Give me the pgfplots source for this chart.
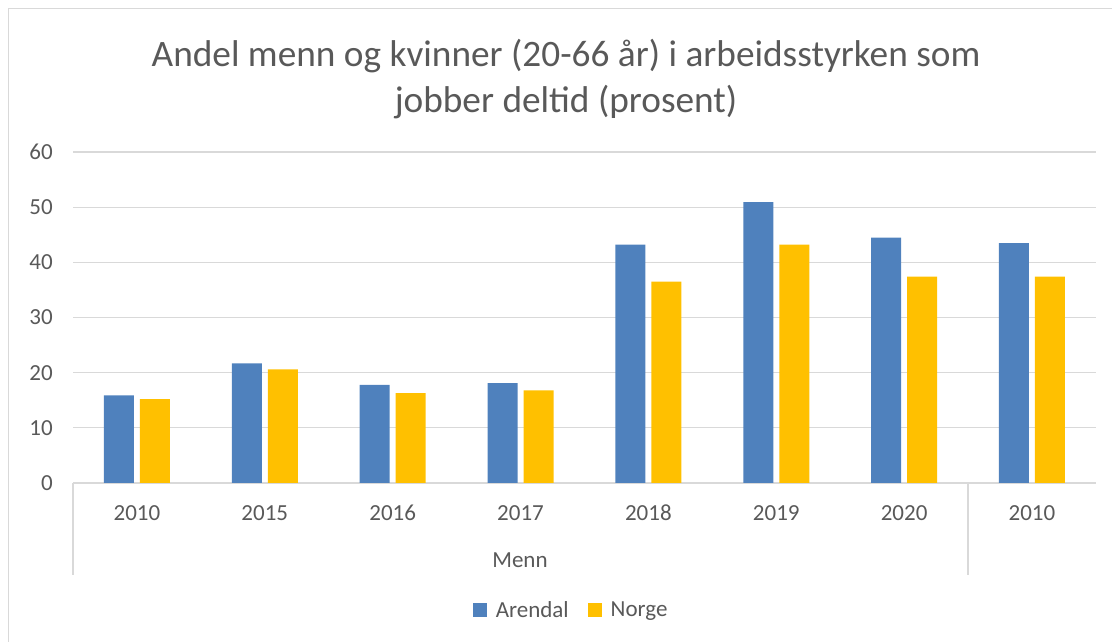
\documentclass[border=0pt]{standalone}
\usepackage{pgfplots}
\pgfplotsset{compat=1.18}
\usepackage{fontspec}
\setmainfont{Carlito}
\definecolor{txt}{RGB}{89,89,89}
\definecolor{gridc}{RGB}{217,217,217}
\definecolor{cblue}{RGB}{79,129,189}
\definecolor{cyellow}{RGB}{255,192,0}
\begin{document}
\begin{tikzpicture}[x=1bp,y=1bp]
\useasboundingbox (0,0) rectangle (1112,642);
\draw[gridc, line width=1.2bp] (8.5,0) -- (8.5,633.5) -- (1112,633.5);
\node[txt, font=\fontsize{37.3bp}{44bp}\selectfont, anchor=base] at (566,575) {Andel menn og kvinner (20-66 år) i arbeidsstyrken som};
\node[txt, font=\fontsize{37.3bp}{44bp}\selectfont, anchor=base] at (566,529) {jobber deltid (prosent)};
\begin{axis}[
  at={(73bp,159bp)}, anchor=south west,
  scale only axis, width=1023bp, height=331bp,
  xmin=-0.5, xmax=7.5, ymin=0, ymax=60,
  ytick={0,10,...,60},
  xtick=data,
  xticklabels={2010,2015,2016,2017,2018,2019,2020,2010},
  major tick length=0pt,
  axis x line*=bottom, axis y line*=left,
  x axis line style={gridc, line width=1.2bp, -},
  y axis line style={draw=none},
  ymajorgrids, grid style={gridc, line width=1.2bp},
  ticklabel style={txt, font=\fontsize{23bp}{28bp}\selectfont},
  yticklabel style={inner sep=0pt, anchor=east, xshift=-20bp},
  xticklabel style={inner sep=0pt, anchor=north, yshift=-22bp},
  /pgf/number format/assume math mode=true,
  ybar, bar width=30bp,
  legend style={at={(0.487,-0.384)}, anchor=center, draw=none, legend columns=-1,
    font=\fontsize{23bp}{28bp}\selectfont, text=txt,
    /tikz/every even column/.append style={column sep=17bp},
    /tikz/every odd column/.append style={column sep=7bp},
    inner sep=0pt, cells={anchor=west}},
  legend image code/.code={\fill[#1] (0bp,-7bp) rectangle (14bp,7bp);},
]
\addplot[fill=cblue, draw=none, bar shift=-18bp] coordinates {
 (0,15.9) (1,21.7) (2,17.8) (3,18.1) (4,43.2) (5,50.9) (6,44.5) (7,43.5)};
\addplot[fill=cyellow, draw=none, bar shift=18bp] coordinates {
 (0,15.2) (1,20.6) (2,16.3) (3,16.8) (4,36.5) (5,43.2) (6,37.4) (7,37.4)};
\legend{Arendal,Norge}
\end{axis}
\draw[gridc, line width=1.2bp] (73,159) -- (73,67);
\draw[gridc, line width=1.2bp] (968,159) -- (968,67);
\node[txt, font=\fontsize{23bp}{28bp}\selectfont] at (520,82) {Menn};
\end{tikzpicture}
\end{document}
